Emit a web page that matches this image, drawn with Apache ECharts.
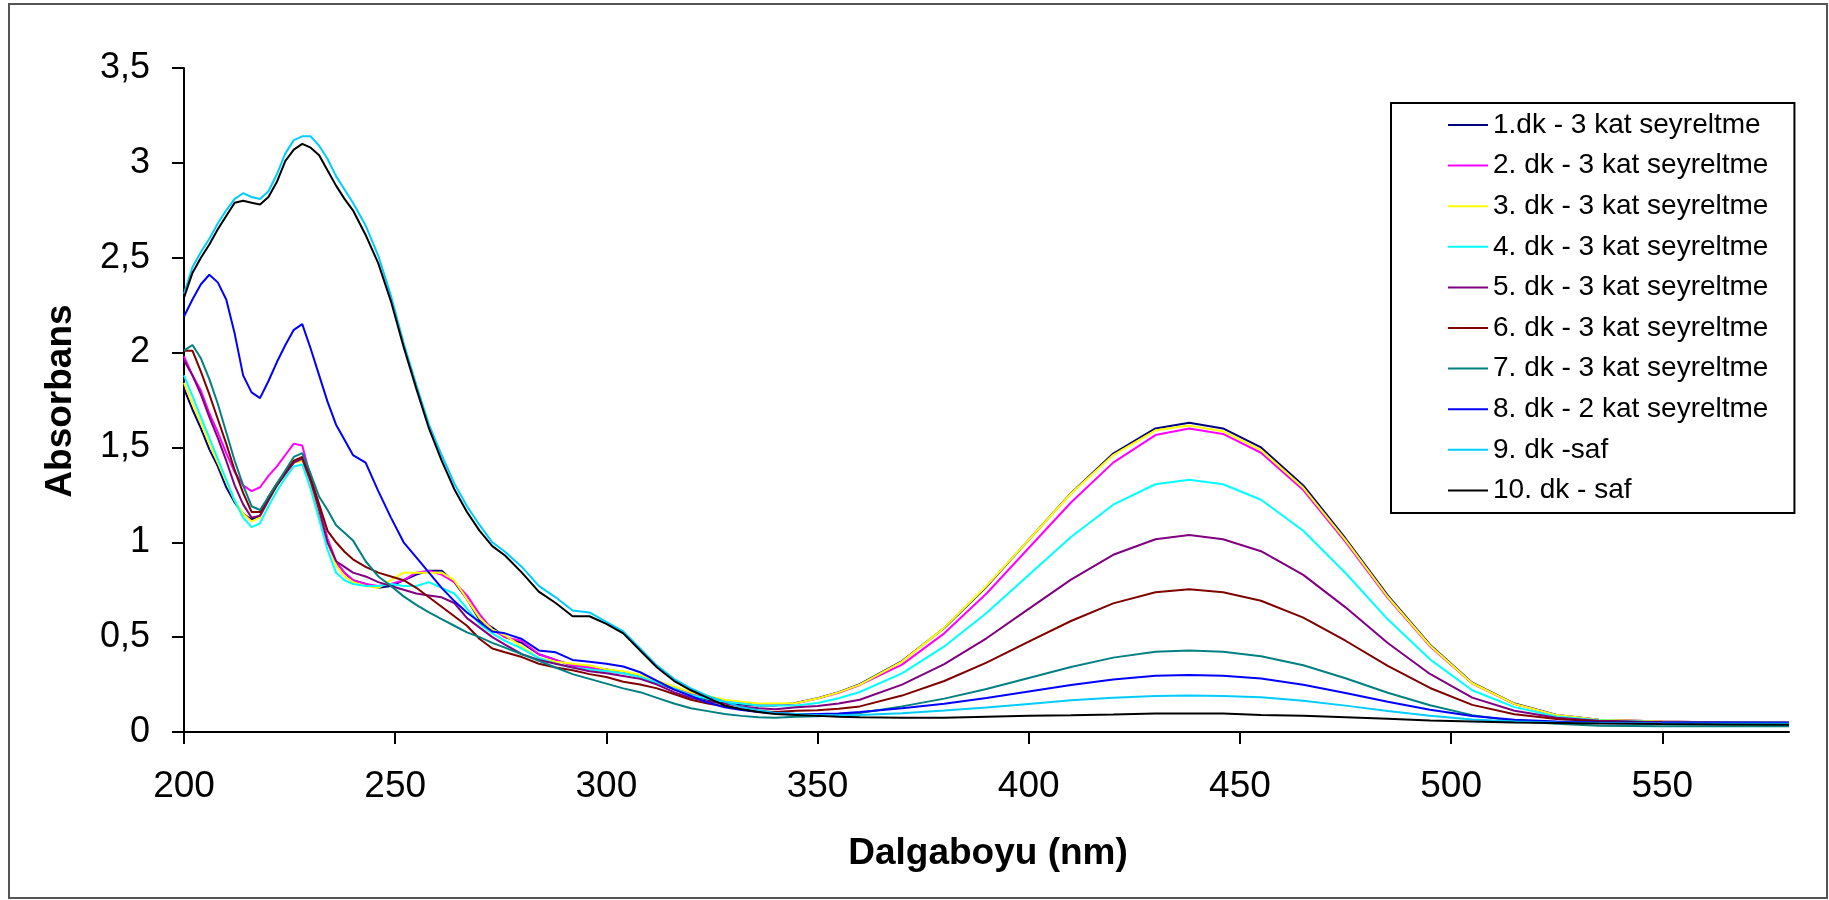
<!DOCTYPE html>
<html><head><meta charset="utf-8">
<script src="https://cdn.jsdelivr.net/npm/echarts@6/dist/echarts.min.js"></script>
<style>html,body{margin:0;padding:0;background:#fff}#c{width:1829px;height:900px}</style>
</head><body><div id="c"></div>
<script>
const wavelengths = [200,202,204,206,208,210,212,214,216,218,220,222,224,226,228,230,232,234,236,238,240,243,246,249,252,255,258,261,264,267,270,273,276,280,284,288,292,296,300,304,308,312,316,320,324,328,332,336,340,345,350,355,360,370,380,390,400,410,420,430,438,446,455,465,475,485,495,505,515,525,535,550,565,580];
const xTickValues = [200,250,300,350,400,450,500,550];
const yTickValues = [0,0.5,1,1.5,2,2.5,3,3.5];
const seriesNames = ["1.dk - 3 kat seyreltme","2. dk - 3 kat seyreltme","3. dk - 3 kat seyreltme","4. dk - 3 kat seyreltme","5. dk - 3 kat seyreltme","6. dk - 3 kat seyreltme","7. dk - 3 kat seyreltme","8. dk - 2 kat seyreltme","9. dk -saf","10. dk - saf"];
const seriesColors = ["#000080","#FF00FF","#FFFF00","#00FFFF","#800080","#800000","#008080","#0000FF","#00CCFF","#000000"];

const s1 = [1.81,1.70,1.60,1.49,1.40,1.29,1.21,1.15,1.12,1.14,1.24,1.31,1.37,1.42,1.44,1.29,1.15,1.00,0.89,0.84,0.80,0.78,0.76,0.77,0.80,0.83,0.85,0.85,0.79,0.70,0.59,0.55,0.50,0.47,0.41,0.38,0.35,0.34,0.33,0.315,0.29,0.26,0.225,0.195,0.17,0.155,0.145,0.14,0.14,
 0.154,0.178,0.21,0.252,0.374,0.548,0.766,1.013,1.259,1.468,1.60,1.63,1.60,1.50,1.30,1.02,0.72,0.46,0.26,0.15,0.09,0.065,0.055,0.05,0.05];
const s2 = [1.98,1.88,1.80,1.68,1.58,1.47,1.37,1.30,1.27,1.29,1.35,1.40,1.46,1.52,1.51,1.34,1.18,1.02,0.90,0.84,0.80,0.78,0.77,0.78,0.80,0.84,0.85,0.83,0.79,0.72,0.62,0.54,0.50,0.48,0.41,0.38,0.35,0.34,0.32,0.31,0.295,0.265,0.235,0.205,0.185,0.165,0.155,0.148,0.145,
 0.152,0.176,0.207,0.248,0.355,0.52,0.73,0.97,1.21,1.42,1.565,1.60,1.571,1.472,1.275,1.002,0.707,0.452,0.255,0.147,0.089,0.065,0.055,0.05,0.05];
const s3 = [1.84,1.73,1.63,1.52,1.42,1.32,1.22,1.15,1.11,1.13,1.22,1.30,1.37,1.42,1.43,1.30,1.16,1.00,0.88,0.82,0.79,0.77,0.76,0.80,0.84,0.84,0.84,0.84,0.80,0.70,0.60,0.54,0.51,0.45,0.39,0.37,0.36,0.35,0.33,0.32,0.30,0.27,0.24,0.21,0.19,0.17,0.16,0.15,0.15,
 0.153,0.177,0.209,0.25,0.371,0.55,0.77,1.013,1.257,1.46,1.59,1.615,1.585,1.486,1.287,1.011,0.713,0.456,0.257,0.148,0.089,0.065,0.055,0.05,0.05];
const s4 = [1.88,1.77,1.66,1.55,1.44,1.33,1.22,1.13,1.08,1.10,1.19,1.27,1.34,1.40,1.41,1.28,1.12,0.96,0.84,0.80,0.78,0.77,0.77,0.78,0.77,0.77,0.79,0.76,0.73,0.65,0.57,0.52,0.48,0.44,0.39,0.36,0.34,0.33,0.32,0.31,0.29,0.26,0.23,0.195,0.175,0.16,0.15,0.14,0.14,
 0.14,0.153,0.178,0.211,0.309,0.451,0.627,0.828,1.028,1.198,1.306,1.33,1.306,1.224,1.061,0.838,0.594,0.383,0.22,0.131,0.082,0.062,0.052,0.05,0.048];
const s5 = [1.96,1.88,1.78,1.66,1.55,1.43,1.30,1.20,1.13,1.14,1.22,1.30,1.36,1.42,1.44,1.32,1.17,1.00,0.90,0.87,0.84,0.82,0.79,0.77,0.75,0.73,0.72,0.71,0.68,0.60,0.55,0.50,0.46,0.41,0.38,0.36,0.34,0.32,0.31,0.295,0.28,0.25,0.21,0.18,0.16,0.15,0.135,0.125,0.12,
 0.13,0.137,0.15,0.17,0.25,0.358,0.494,0.649,0.803,0.934,1.016,1.038,1.016,0.953,0.828,0.657,0.469,0.306,0.181,0.112,0.075,0.059,0.052,0.05,0.048];
const s6 = [2.01,2.01,1.90,1.78,1.65,1.52,1.38,1.26,1.16,1.16,1.23,1.30,1.37,1.43,1.45,1.34,1.20,1.06,1.00,0.95,0.91,0.87,0.84,0.82,0.80,0.76,0.71,0.66,0.61,0.56,0.49,0.44,0.42,0.395,0.36,0.34,0.325,0.305,0.29,0.265,0.25,0.23,0.20,0.17,0.15,0.135,0.12,0.11,0.105,
 0.112,0.115,0.122,0.135,0.192,0.269,0.366,0.476,0.585,0.678,0.737,0.752,0.737,0.692,0.603,0.481,0.348,0.232,0.143,0.094,0.068,0.057,0.05,0.048,0.045];
const s7 = [2.01,2.04,1.97,1.86,1.73,1.58,1.43,1.30,1.19,1.17,1.24,1.31,1.38,1.45,1.47,1.36,1.24,1.17,1.09,1.05,1.01,0.90,0.82,0.77,0.715,0.67,0.63,0.595,0.56,0.525,0.50,0.47,0.445,0.41,0.375,0.34,0.305,0.28,0.255,0.23,0.21,0.18,0.15,0.125,0.11,0.095,0.085,0.078,0.075,
 0.08,0.083,0.09,0.10,0.135,0.176,0.227,0.285,0.343,0.392,0.423,0.43,0.423,0.399,0.352,0.283,0.207,0.141,0.089,0.058,0.044,0.033,0.03,0.03,0.03];
const s8 = [2.19,2.28,2.36,2.41,2.37,2.28,2.10,1.88,1.79,1.76,1.85,1.95,2.04,2.12,2.15,2.02,1.88,1.74,1.62,1.54,1.46,1.42,1.27,1.13,1.00,0.92,0.84,0.76,0.69,0.63,0.58,0.53,0.52,0.49,0.43,0.42,0.38,0.37,0.36,0.345,0.315,0.27,0.225,0.19,0.155,0.13,0.116,0.105,0.10,
 0.095,0.095,0.098,0.105,0.125,0.149,0.179,0.214,0.248,0.277,0.296,0.30,0.296,0.282,0.249,0.206,0.159,0.117,0.084,0.064,0.056,0.052,0.05,0.05,0.05];
const s9 = [2.31,2.45,2.53,2.60,2.68,2.75,2.81,2.84,2.82,2.81,2.85,2.94,3.05,3.12,3.14,3.14,3.09,3.02,2.93,2.86,2.79,2.67,2.51,2.30,2.05,1.83,1.62,1.46,1.31,1.19,1.09,1.00,0.95,0.87,0.77,0.71,0.64,0.63,0.58,0.53,0.44,0.35,0.28,0.23,0.19,0.16,0.13,0.115,0.10,
 0.095,0.09,0.088,0.09,0.099,0.113,0.129,0.148,0.167,0.181,0.19,0.193,0.19,0.183,0.165,0.139,0.111,0.086,0.066,0.056,0.05,0.047,0.045,0.044,0.043];
const s10 = [2.29,2.42,2.50,2.57,2.65,2.72,2.79,2.80,2.79,2.78,2.82,2.90,3.01,3.07,3.10,3.08,3.04,2.96,2.88,2.81,2.75,2.62,2.47,2.27,2.03,1.81,1.60,1.43,1.28,1.16,1.06,0.98,0.93,0.84,0.74,0.68,0.61,0.61,0.57,0.52,0.43,0.34,0.27,0.22,0.18,0.14,0.12,0.105,0.095,
 0.09,0.085,0.08,0.078,0.075,0.075,0.08,0.085,0.088,0.092,0.097,0.098,0.097,0.09,0.085,0.078,0.07,0.06,0.055,0.05,0.048,0.045,0.042,0.04,0.038];

const allValues = [s1,s2,s3,s4,s5,s6,s7,s8,s9,s10];
const FONT = "'Liberation Sans', Arial, sans-serif";

const chart = echarts.init(document.getElementById('c'), null, {renderer:'canvas'});
const series = allValues.map((vals, k) => ({
  name: seriesNames[k],
  type: 'line',
  data: wavelengths.map((w, i) => [w, vals[i]]),
  showSymbol: false,
  symbol: 'none',
  color: seriesColors[k],
  itemStyle: {color: seriesColors[k]},
  lineStyle: {color: seriesColors[k], width: 2},
  emphasis: {disabled: true},
  z: 2 + k
}));

chart.setOption({
  animation: false,
  backgroundColor: '#fff',
  grid: {left: 184, top: 68, width: 1605, height: 664, containLabel: false},
  xAxis: {
    type: 'value', min: 200, max: 580,
    axisLine: {lineStyle: {color: '#000', width: 2}},
    axisTick: {show: true, inside: false, length: 12, lineStyle: {color: '#000', width: 2}, customValues: xTickValues},
    axisLabel: {margin: 36, fontSize: 37, color: '#000', fontFamily: FONT, customValues: xTickValues},
    splitLine: {show: false}
  },
  yAxis: {
    type: 'value', min: 0, max: 3.5, interval: 0.5,
    axisLine: {show: true, lineStyle: {color: '#000', width: 2}},
    axisTick: {show: true, inside: false, length: 12, lineStyle: {color: '#000', width: 2}},
    axisLabel: {margin: 34, fontSize: 36, color: '#000', fontFamily: FONT,
      formatter: v => String(v).replace('.', ',')},
    splitLine: {show: false}
  },
  legend: {
    orient: 'vertical', left: 1391, top: 103,
    padding: [8, 26, 8.6, 57], itemGap: 12.6,
    itemWidth: 40, itemHeight: 2, icon: 'rect', itemTextGap: 8,
    borderColor: '#000', borderWidth: 2, backgroundColor: '#fff',
    selectedMode: false,
    textStyle: {fontFamily: FONT, fontSize: 28, lineHeight: 28, color: '#000'},
    data: seriesNames
  },
  graphic: [
    {type: 'rect', shape: {x: 9, y: 4, width: 1818, height: 894}, style: {fill: 'none', stroke: '#555', lineWidth: 2}, silent: true, z: 0},
    {type: 'text', x: 988, y: 854, style: {text: 'Dalgaboyu (nm)', font: 'bold 37px ' + FONT, fill: '#000', align: 'center', verticalAlign: 'middle', textAlign: 'center', textVerticalAlign: 'middle'}},
    {type: 'text', x: 61, y: 401, rotation: Math.PI / 2, style: {text: 'Absorbans', font: 'bold 37px ' + FONT, fill: '#000', align: 'center', verticalAlign: 'middle', textAlign: 'center', textVerticalAlign: 'middle'}}
  ],
  series: series
});
</script></body></html>
